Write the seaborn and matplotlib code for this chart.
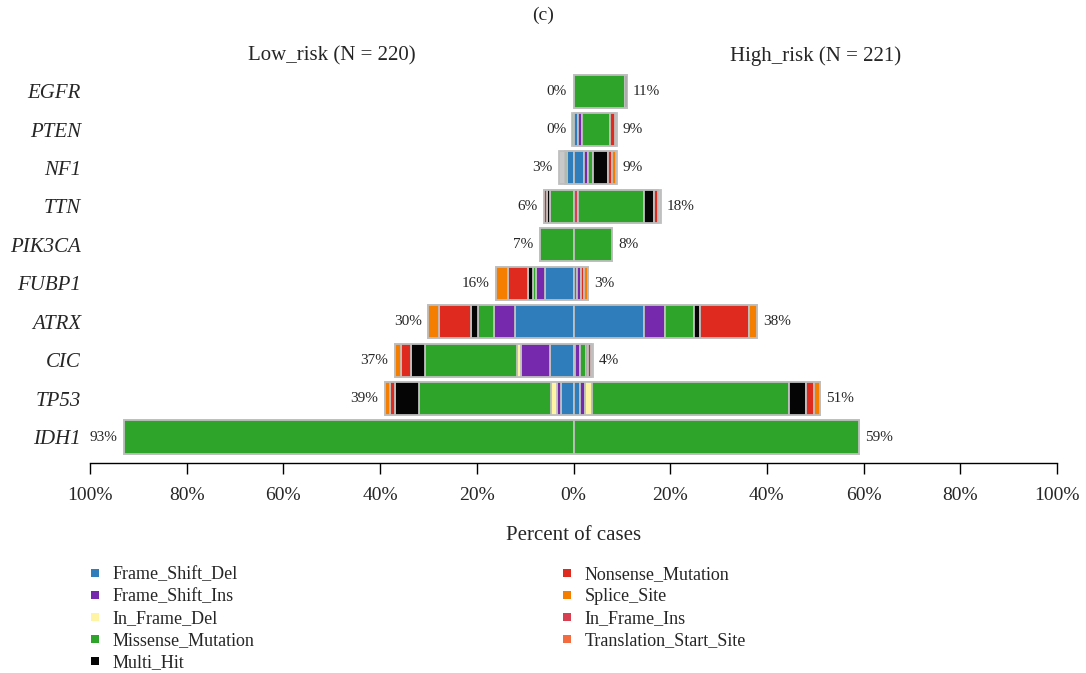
import matplotlib
matplotlib.use("Agg")
import matplotlib.pyplot as plt
from matplotlib.lines import Line2D
import pandas as pd
import seaborn as sns

genes = ["EGFR", "PTEN", "NF1", "TTN", "PIK3CA", "FUBP1", "ATRX", "CIC", "TP53", "IDH1"]
low_total = [0, 0, 3, 6, 7, 16, 30, 37, 39, 93]
high_total = [11, 9, 9, 18, 8, 3, 38, 4, 51, 59]

categories = ["Frame_Shift_Del", "Frame_Shift_Ins", "In_Frame_Del", "Missense_Mutation",
              "Multi_Hit", "Nonsense_Mutation", "Splice_Site", "In_Frame_Ins",
              "Translation_Start_Site"]
class_colors = ["#2f7dbb", "#7629ad", "#fff4a3", "#2ea42a", "#050505",
                "#df2a1f", "#f57d00", "#d83f51", "#f46b3f"]

# percent of cases carrying each class, in the order of `genes`
low_frame_shift_del = [0, 0, 1.3, 0, 0, 5.8, 12.1, 4.8, 2.6, 0]
low_frame_shift_ins = [0, 0, 0, 0, 0, 1.9, 4.4, 6.0, 0.8, 0]
low_in_frame_del = [0, 0, 0, 0, 0, 0, 0, 0.8, 1.2, 0]
low_missense = [0, 0.4, 0.5, 4.9, 7, 0.7, 3.3, 19.2, 27.3, 93]
low_multi_hit = [0, 0, 0, 0.5, 0, 1.0, 1.3, 2.9, 5.1, 0]
low_nonsense = [0, 0, 0, 0.6, 0, 4.1, 6.8, 1.9, 1.0, 0]
low_splice = [0, 0, 0, 0, 0, 2.5, 2.1, 1.4, 1.0, 0]
low_in_frame_ins = [0, 0, 0, 0, 0, 0, 0, 0, 0, 0]
low_translation_start = [0, 0, 0, 0, 0, 0, 0, 0, 0, 0]

high_frame_shift_del = [0, 0.9, 2.2, 0, 0, 0.7, 14.6, 0.4, 1.4, 0]
high_frame_shift_ins = [0, 0.9, 0.9, 0, 0, 0.8, 4.4, 0.9, 0.9, 0]
high_in_frame_del = [0, 0, 0, 0, 0, 0, 0, 0, 1.6, 0]
high_missense = [10.6, 5.8, 0.9, 13.6, 8, 0, 5.9, 1.2, 40.6, 59]
high_multi_hit = [0.4, 0, 3.2, 2.1, 0, 0, 1.3, 0.45, 3.6, 0]
high_nonsense = [0, 0.9, 0.8, 0.8, 0, 0.7, 10.2, 0.6, 1.6, 0]
high_splice = [0, 0, 0.8, 0, 0, 0.7, 1.6, 0, 1.3, 0]
high_in_frame_ins = [0, 0, 0, 1.0, 0, 0, 0, 0, 0, 0]
high_translation_start = [0, 0, 0, 0, 0, 0, 0, 0, 0, 0]

low_classes = dict(zip(categories, [low_frame_shift_del, low_frame_shift_ins, low_in_frame_del,
                                    low_missense, low_multi_hit, low_nonsense, low_splice,
                                    low_in_frame_ins, low_translation_start]))
high_classes = dict(zip(categories, [high_frame_shift_del, high_frame_shift_ins, high_in_frame_del,
                                     high_missense, high_multi_hit, high_nonsense, high_splice,
                                     high_in_frame_ins, high_translation_start]))
palette = dict(zip(categories, class_colors))
stack_order = ["In_Frame_Ins", "Frame_Shift_Del", "Frame_Shift_Ins", "In_Frame_Del",
               "Missense_Mutation", "Multi_Hit", "Nonsense_Mutation", "Splice_Site",
               "Translation_Start_Site"]

sns.set_theme(style="white")
plt.rcParams["font.family"] = ["Liberation Serif", "DejaVu Serif"]

W, H = 1086, 673
fig = plt.figure(figsize=(W / 100, H / 100), dpi=100)
ax = fig.add_axes([90 / W, 1 - 463 / H, (1057 - 90) / W, (463 - 68) / H])

EDGE = "#bfbfbf"
BAR_H = 0.86

totals = pd.DataFrame({"gene": genes,
                       "low": [-v for v in low_total],
                       "high": high_total})
for side in ["low", "high"]:
    sns.barplot(data=totals, x=side, y="gene", order=genes, orient="h",
                color="#c9c9c9", saturation=1, errorbar=None, width=BAR_H,
                edgecolor=EDGE, linewidth=1.3, ax=ax)

# stacked mutation classes, growing outwards from the centre line
for classes, sign in [(low_classes, -1), (high_classes, 1)]:
    cum = [0.0] * len(genes)
    for cat in stack_order:
        vals = classes[cat]
        for i, v in enumerate(vals):
            if v <= 0:
                continue
            left = cum[i] if sign > 0 else -(cum[i] + v)
            ax.barh(i, v, left=left, height=BAR_H, color=palette[cat],
                    edgecolor=EDGE, linewidth=1.3)
            cum[i] += v

for i, (lo, hi) in enumerate(zip(low_total, high_total)):
    ax.text(-(lo + 1.4), i, f"{lo}%", ha="right", va="center", fontsize=11)
    ax.text(hi + 1.2, i, f"{hi}%", ha="left", va="center", fontsize=11)

ax.set_xlim(-100, 100)
ax.set_ylim(9.676, -0.6)
ticks = list(range(-100, 101, 20))
ax.set_xticks(ticks)
ax.set_xticklabels([f"{abs(t)}%" for t in ticks], fontsize=14)
ax.set_yticks(range(len(genes)))
ax.set_yticklabels(genes, fontsize=15, style="italic")
ax.tick_params(axis="y", left=False, length=0, pad=6.5)
ax.tick_params(axis="x", bottom=True, direction="out", length=8, width=1,
               color="black", pad=9)
for s in ["left", "right", "top"]:
    ax.spines[s].set_visible(False)
ax.spines["bottom"].set_color("black")
ax.spines["bottom"].set_linewidth(1)
ax.set_ylabel("")
ax.set_xlabel("Percent of cases", fontsize=15, labelpad=16)

fig.text(0.5, 1 - 15 / H, "(c)", ha="center", va="center", fontsize=14)
fig.text(332 / W, 1 - 56 / H, "Low_risk (N = 220)", ha="center", va="center", fontsize=15)
fig.text(816 / W, 1 - 56 / H, "High_risk (N = 221)", ha="center", va="center", fontsize=15)

def handles(names):
    return [Line2D([], [], marker="s", linestyle="", markersize=6,
                   markerfacecolor=palette[n], markeredgewidth=0, label=n) for n in names]

leg_kw = dict(loc="upper left", frameon=False, fontsize=13, handlelength=1.0,
              handletextpad=0.5, labelspacing=0.28, borderpad=0, borderaxespad=0)
leg1 = fig.legend(handles=handles(categories[:5]), bbox_to_anchor=(85.7 / W, 1 - 566 / H), **leg_kw)
leg2 = fig.legend(handles=handles(categories[5:]), bbox_to_anchor=(557.7 / W, 1 - 566 / H), **leg_kw)

fig.savefig("out.png", dpi=100)
